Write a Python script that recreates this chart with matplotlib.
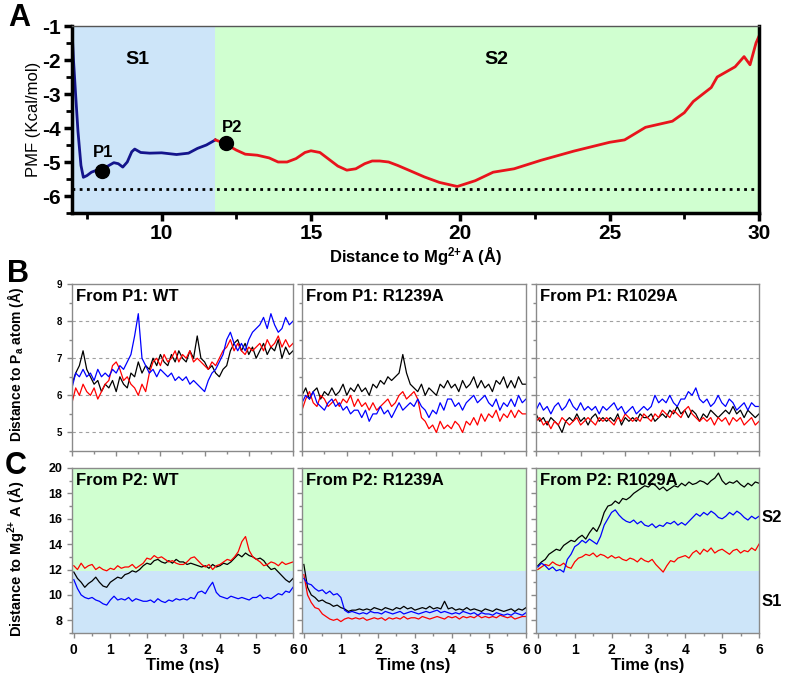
import numpy as np
import matplotlib
matplotlib.use("Agg")
import matplotlib.pyplot as plt
from matplotlib.ticker import MultipleLocator

plt.rcParams['font.family'] = ['Liberation Sans', 'DejaVu Sans']
plt.rcParams['axes.unicode_minus'] = False
plt.rcParams['mathtext.fontset'] = 'custom'
plt.rcParams['mathtext.rm'] = 'Liberation Sans'
plt.rcParams['mathtext.bf'] = 'Liberation Sans:bold'
plt.rcParams['mathtext.it'] = 'Liberation Sans:italic'

# ---------------- DATA ----------------
# Panel A: PMF profile
pmf_s1_x = [7.0, 7.05, 7.12, 7.2, 7.3, 7.38, 7.5, 7.65, 7.8, 8.0, 8.2, 8.4, 8.55,
            8.7, 8.85, 9.0, 9.1, 9.3, 9.6, 10.0, 10.5, 10.9, 11.2, 11.5, 11.8]
pmf_s1_y = [-1.1, -2.0, -3.0, -4.1, -5.1, -5.45, -5.4, -5.3, -5.25, -5.2, -5.12, -5.02, -5.05,
            -5.15, -5.0, -4.7, -4.62, -4.72, -4.74, -4.73, -4.78, -4.74, -4.6, -4.5, -4.35]
pmf_s2_x = [11.8, 12.1, 12.5, 12.8, 13.2, 13.6, 13.9, 14.2, 14.5, 14.8, 15.0, 15.3, 15.6,
            15.9, 16.2, 16.5, 16.8, 17.05, 17.3, 17.6, 17.9, 18.3, 18.8, 19.3, 19.9, 20.5,
            21.1, 21.8, 22.7, 23.8, 25.0, 25.5, 26.2, 27.1, 27.5, 27.8, 28.4, 28.6, 28.9,
            29.2, 29.5, 29.7, 29.9, 30.0]
pmf_s2_y = [-4.35, -4.45, -4.65, -4.77, -4.8, -4.88, -5.0, -5.0, -4.9, -4.72, -4.67, -4.72, -4.92,
            -5.12, -5.24, -5.2, -5.05, -4.97, -4.97, -5.0, -5.1, -5.25, -5.44, -5.6, -5.72, -5.55,
            -5.3, -5.2, -4.95, -4.68, -4.42, -4.35, -3.98, -3.8, -3.55, -3.22, -2.81, -2.5, -2.35,
            -2.2, -1.9, -2.14, -1.5, -1.3]
pmf_min = -5.8
p1 = (8.0, -5.25)
p2 = (12.15, -4.45)
s1_edge = 11.8

# Panel B: distance to Pa atom, sampled every 0.1 ns (0..6 ns)
b_wt_black = [6.3, 6.6, 6.8, 7.2, 6.7, 6.5, 6.3, 6.4, 6.1, 6.3, 6.2, 6.4, 6.1, 6.5, 6.3, 6.2,
              6.6, 6.5, 6.9, 6.6, 6.8, 6.7, 7.0, 6.8, 7.1, 6.9, 6.8, 7.1, 6.9, 7.2, 7.0, 6.9,
              7.2, 7.0, 7.6, 7.0, 6.9, 6.7, 6.8, 6.6, 6.5, 6.7, 6.8, 7.2, 7.4, 7.5, 7.2, 7.4,
              7.1, 7.3, 7.0, 7.2, 7.4, 7.1, 7.3, 7.2, 7.5, 7.0, 7.3, 7.1, 7.2]
b_wt_red = [5.8, 6.2, 6.0, 6.3, 6.1, 6.0, 6.2, 5.9, 6.1, 6.3, 6.4, 6.8, 6.9, 6.7, 6.4, 6.5,
            6.3, 6.2, 6.0, 6.3, 6.1, 6.6, 6.9, 7.0, 6.8, 7.1, 6.9, 7.0, 7.2, 6.9, 7.1, 7.0,
            7.2, 6.9, 7.0, 6.9, 6.8, 6.7, 6.9, 6.8, 7.0, 7.2, 7.3, 7.5, 7.2, 7.4, 7.2, 7.1,
            7.3, 7.2, 7.3, 7.4, 7.2, 7.5, 7.3, 7.4, 7.6, 7.3, 7.5, 7.3, 7.4]
b_wt_blue = [6.2, 6.6, 6.5, 6.7, 6.5, 6.6, 6.4, 6.7, 6.5, 6.6, 6.5, 6.7, 6.6, 6.8, 6.7, 6.9,
             7.1, 7.6, 8.2, 7.0, 6.8, 6.6, 6.7, 6.5, 6.7, 6.6, 6.5, 6.6, 6.4, 6.5, 6.4, 6.5,
             6.3, 6.4, 6.3, 6.2, 6.1, 6.4, 6.6, 6.7, 6.9, 7.1, 7.5, 7.7, 7.4, 7.2, 7.4, 7.2,
             7.5, 7.7, 7.8, 7.9, 8.1, 7.8, 8.2, 7.9, 7.7, 7.8, 8.1, 7.9, 8.0]
b_r1239_black = [6.0, 6.2, 5.9, 6.1, 6.2, 5.9, 6.1, 6.0, 6.2, 6.0, 6.1, 6.3, 6.0, 6.2, 6.1, 6.3,
                 6.1, 6.2, 6.0, 6.3, 6.2, 6.4, 6.3, 6.5, 6.4, 6.5, 6.6, 7.1, 6.6, 6.3, 6.2, 6.1,
                 6.3, 6.0, 6.2, 6.1, 6.0, 6.3, 6.2, 6.4, 6.2, 6.3, 6.1, 6.4, 6.2, 6.3, 6.5, 6.2,
                 6.4, 6.2, 6.3, 6.1, 6.4, 6.3, 6.5, 6.2, 6.4, 6.2, 6.5, 6.3, 6.3]
b_r1239_red = [5.6, 5.9, 6.1, 5.8, 5.7, 6.0, 5.9, 5.7, 5.8, 5.9, 5.7, 5.9, 5.8, 6.0, 5.7, 5.9,
               5.7, 5.8, 5.6, 5.8, 5.6, 5.7, 5.8, 5.9, 5.7, 5.8, 6.0, 6.1, 5.9, 6.0, 6.1, 5.9,
               5.4, 5.3, 5.1, 5.2, 5.0, 5.3, 5.1, 5.2, 5.1, 5.3, 5.2, 5.0, 5.3, 5.2, 5.4, 5.2,
               5.5, 5.3, 5.5, 5.4, 5.6, 5.3, 5.5, 5.4, 5.6, 5.4, 5.6, 5.5, 5.5]
b_r1239_blue = [5.8, 6.0, 5.9, 6.1, 5.8, 5.7, 5.6, 5.8, 5.9, 5.7, 5.8, 5.6, 5.7, 5.5, 5.6, 5.6,
                5.4, 5.6, 5.3, 5.5, 5.5, 5.7, 5.5, 5.6, 5.4, 5.6, 5.8, 5.6, 5.7, 5.8, 5.7, 5.9,
                5.7, 5.6, 5.4, 5.6, 5.5, 5.8, 5.6, 5.9, 5.9, 5.7, 5.8, 5.6, 5.8, 5.9, 6.0, 5.8,
                5.9, 6.0, 5.8, 5.7, 5.9, 5.6, 5.8, 5.7, 5.9, 5.7, 6.0, 5.8, 5.9]
b_r1029_black = [5.5, 5.3, 5.4, 5.2, 5.4, 5.3, 5.2, 5.0, 5.3, 5.4, 5.3, 5.5, 5.3, 5.4, 5.2, 5.4,
                 5.5, 5.3, 5.4, 5.3, 5.4, 5.3, 5.5, 5.2, 5.4, 5.3, 5.4, 5.3, 5.5, 5.4, 5.4, 5.5,
                 5.3, 5.4, 5.5, 5.4, 5.6, 5.5, 5.7, 5.5, 5.6, 5.4, 5.6, 5.5, 5.3, 5.5, 5.4, 5.6,
                 5.5, 5.4, 5.5, 5.6, 5.5, 5.7, 5.5, 5.6, 5.4, 5.6, 5.5, 5.4, 5.5]
b_r1029_red = [5.3, 5.4, 5.2, 5.3, 5.1, 5.3, 5.2, 5.4, 5.3, 5.2, 5.3, 5.4, 5.2, 5.3, 5.4, 5.3,
               5.2, 5.4, 5.3, 5.4, 5.3, 5.2, 5.4, 5.3, 5.5, 5.4, 5.3, 5.4, 5.3, 5.5, 5.4, 5.3,
               5.5, 5.4, 5.6, 5.5, 5.4, 5.6, 5.5, 5.4, 5.6, 5.7, 5.5, 5.4, 5.3, 5.4, 5.3, 5.4,
               5.2, 5.4, 5.3, 5.4, 5.2, 5.4, 5.3, 5.4, 5.2, 5.3, 5.4, 5.2, 5.3]
b_r1029_blue = [5.6, 5.8, 5.6, 5.7, 5.5, 5.7, 5.8, 5.6, 5.7, 5.9, 5.7, 5.6, 5.8, 5.6, 5.7, 5.6,
                5.7, 5.5, 5.7, 5.6, 5.7, 5.8, 5.6, 5.7, 5.5, 5.6, 5.7, 5.5, 5.6, 5.7, 5.6, 5.7,
                6.0, 5.8, 5.9, 5.8, 6.0, 5.8, 5.7, 5.9, 5.9, 6.1, 6.0, 6.2, 5.9, 5.8, 5.9, 5.7,
                5.8, 6.0, 5.8, 5.7, 5.9, 5.8, 5.6, 5.7, 5.8, 5.6, 5.8, 5.7, 5.7]

# Panel C: distance to Mg2+ A, sampled every 0.1 ns (0..6 ns)
c_wt_black = [11.8, 11.3, 11.0, 10.6, 10.9, 11.1, 11.4, 11.0, 10.7, 10.6, 11.0, 11.2, 11.4, 11.3,
              11.6, 11.7, 11.9, 11.8, 12.0, 12.3, 12.5, 12.4, 12.7, 12.8, 12.6, 12.5, 12.7, 12.5,
              12.8, 12.6, 12.6, 12.4, 12.5, 12.4, 12.3, 12.2, 12.3, 12.1, 12.4, 12.2, 12.3, 12.5,
              12.4, 12.6, 12.9, 13.2, 13.0, 13.3, 13.1, 13.0, 12.8, 12.9, 12.7, 12.3, 12.0, 12.1,
              11.8, 11.5, 11.2, 11.0, 11.3]
c_wt_red = [12.3, 12.0, 12.5, 12.1, 12.3, 12.4, 12.0, 12.2, 12.0, 11.9, 12.1, 12.0, 12.3, 12.1,
            12.2, 12.2, 12.4, 12.1, 12.3, 12.5, 12.9, 12.8, 13.1, 12.9, 13.0, 12.8, 12.6, 12.7,
            12.5, 12.4, 12.4, 12.6, 12.9, 13.0, 12.7, 12.4, 12.2, 12.4, 12.0, 12.3, 12.4, 12.6,
            12.8, 12.7, 13.0, 13.4, 14.2, 14.6, 13.5, 13.0, 12.8, 12.6, 12.3, 12.4, 12.6, 12.5,
            12.3, 12.6, 12.4, 12.5, 12.6]
c_wt_blue = [11.2, 10.5, 10.0, 9.8, 9.7, 9.8, 9.6, 9.5, 9.3, 9.2, 9.6, 9.9, 9.6, 9.7, 9.6, 9.8,
             9.5, 9.7, 9.6, 9.5, 9.5, 9.6, 9.4, 9.7, 9.5, 9.4, 9.6, 9.5, 9.7, 9.6, 9.7, 9.6,
             9.8, 9.7, 10.2, 10.3, 10.1, 10.6, 11.0, 10.2, 9.9, 9.8, 9.7, 9.9, 9.8, 9.7, 9.8,
             9.7, 9.6, 9.8, 9.8, 10.0, 9.7, 9.8, 9.7, 9.9, 10.1, 10.0, 10.3, 10.2, 10.6]
c_r1239_black = [12.4, 10.6, 10.0, 9.8, 9.5, 9.6, 9.4, 9.3, 9.1, 9.2, 9.0, 8.9, 8.7, 8.8, 8.8,
                 8.9, 8.8, 8.9, 8.8, 9.0, 8.9, 8.8, 9.0, 8.9, 8.8, 9.0, 8.9, 9.1, 8.9, 9.0, 8.8,
                 8.9, 9.0, 8.9, 9.1, 8.9, 9.0, 8.9, 9.5, 8.9, 9.0, 8.8, 8.9, 8.8, 9.0, 8.8, 8.9,
                 8.8, 8.7, 8.9, 8.8, 8.7, 8.9, 8.8, 8.7, 8.8, 8.9, 8.7, 8.9, 8.8, 9.0]
c_r1239_red = [11.6, 10.0, 9.4, 9.0, 8.9, 8.5, 8.3, 8.1, 8.0, 8.1, 7.9, 8.1, 8.2, 8.1, 8.2, 8.1,
               8.2, 8.0, 8.1, 8.2, 8.1, 8.2, 8.0, 8.2, 8.1, 8.2, 8.1, 8.3, 8.1, 8.2, 8.2, 8.1,
               8.3, 8.2, 8.1, 8.2, 8.3, 8.2, 8.1, 8.3, 8.2, 8.3, 8.1, 8.3, 8.2, 8.3, 8.2, 8.4,
               8.2, 8.3, 8.2, 8.3, 8.2, 8.4, 8.3, 8.2, 8.3, 8.1, 8.2, 8.3, 8.3]
c_r1239_blue = [11.3, 10.9, 10.8, 10.5, 10.3, 10.4, 10.1, 10.3, 10.0, 10.1, 9.8, 8.8, 8.6, 8.7,
                8.6, 8.5, 8.6, 8.5, 8.7, 8.6, 8.6, 8.5, 8.7, 8.6, 8.5, 8.6, 8.7, 8.5, 8.6, 8.7,
                8.6, 8.5, 8.6, 8.7, 8.6, 8.7, 8.8, 8.6, 8.7, 8.6, 8.5, 8.6, 8.5, 8.7, 8.6, 8.5,
                8.6, 8.4, 8.6, 8.5, 8.5, 8.4, 8.6, 8.5, 8.4, 8.5, 8.4, 8.6, 8.5, 8.4, 8.6]
c_r1029_black = [12.3, 12.6, 12.8, 13.2, 13.4, 13.6, 13.5, 13.9, 14.1, 14.3, 14.2, 14.5, 14.7, 14.4,
                 14.9, 15.3, 15.0, 15.6, 16.5, 17.0, 17.1, 17.4, 17.2, 17.6, 17.5, 17.7, 18.0, 18.2,
                 18.4, 18.6, 18.5, 18.8, 18.6, 18.3, 18.5, 18.2, 18.4, 18.6, 18.5, 18.8, 18.6, 18.9,
                 18.7, 18.8, 19.0, 18.9, 18.7, 19.0, 19.2, 19.6, 19.0, 18.7, 18.9, 18.8, 19.0, 18.7,
                 18.5, 18.8, 18.6, 18.9, 18.8]
c_r1029_red = [12.0, 12.2, 12.4, 12.3, 12.6, 12.4, 12.3, 12.5, 12.2, 12.1, 12.6, 12.9, 13.0, 13.2,
               13.1, 13.3, 13.0, 13.2, 13.1, 12.9, 13.1, 12.9, 13.0, 12.8, 12.7, 12.9, 12.8, 12.6,
               12.9, 12.7, 12.6, 12.8, 12.4, 12.1, 11.8, 12.3, 12.7, 12.6, 12.9, 13.0, 13.1, 12.9,
               13.3, 13.5, 13.2, 13.6, 13.4, 13.7, 13.3, 13.5, 13.6, 13.4, 13.2, 13.5, 13.6, 13.3,
               13.5, 13.4, 13.7, 13.5, 14.0]
c_r1029_blue = [12.2, 12.5, 12.3, 12.0, 12.2, 11.9, 12.0, 11.8, 12.8, 13.2, 13.8, 14.0, 14.3, 14.1,
                14.4, 14.2, 14.0, 14.6, 15.5, 16.0, 16.5, 16.7, 16.3, 16.0, 15.8, 15.7, 15.9, 15.6,
                15.8, 15.5, 15.4, 15.6, 15.3, 15.5, 15.4, 15.7, 15.6, 15.8, 15.5, 15.7, 15.5, 15.8,
                16.1, 16.4, 16.2, 16.5, 16.3, 16.6, 16.4, 16.1, 16.0, 16.2, 16.5, 16.3, 16.6, 16.4,
                16.1, 15.9, 16.2, 16.0, 16.2]

b_titles = ["From P1: WT", "From P1: R1239A", "From P1: R1029A"]
c_titles = ["From P2: WT", "From P2: R1239A", "From P2: R1029A"]
b_traces = [(b_wt_black, b_wt_red, b_wt_blue),
            (b_r1239_black, b_r1239_red, b_r1239_blue),
            (b_r1029_black, b_r1029_red, b_r1029_blue)]
c_traces = [(c_wt_black, c_wt_red, c_wt_blue),
            (c_r1239_black, c_r1239_red, c_r1239_blue),
            (c_r1029_black, c_r1029_red, c_r1029_blue)]
trace_colors = ['#000000', '#ff0000', '#0000ff']

S1_COLOR = '#cde5f9'
S2_COLOR = '#d0ffd0'
FRAME = '#8a8a8a'

# ---------------- FIGURE ----------------
W, H = 788, 677
fig = plt.figure(figsize=(W / 100, H / 100), dpi=100)


def box(l, t, r, b):
    return [l / W, 1 - b / H, (r - l) / W, (b - t) / H]


# ---- Panel A ----
ax = fig.add_axes(box(72, 26, 759, 213))
ax.axvspan(7, s1_edge, color=S1_COLOR, lw=0)
ax.axvspan(s1_edge, 30, color=S2_COLOR, lw=0)
ax.axhline(pmf_min, color='black', ls=(0, (1, 1.6)), lw=2)
ax.plot(pmf_s1_x, pmf_s1_y, color='#14148c', lw=2)
ax.plot(pmf_s2_x, pmf_s2_y, color='#e8141c', lw=2)
ax.plot(*p1, 'o', color='black', ms=10, zorder=5)
ax.plot(*p2, 'o', color='black', ms=10, zorder=5)
ax.text(p1[0] + 0.05, -4.72, 'P1', fontsize=12, fontweight='bold', ha='center', va='center')
ax.text(p2[0] + 0.2, -3.98, 'P2', fontsize=12, fontweight='bold', ha='center', va='center')
ax.text(9.2, -2.0, 'S1', fontsize=14, fontweight='bold', ha='center', va='center')
ax.text(21.2, -2.0, 'S2', fontsize=14, fontweight='bold', ha='center', va='center')
ax.set_xlim(7, 30)
ax.set_ylim(-6.5, -1)
ax.xaxis.set_major_locator(MultipleLocator(5))
ax.xaxis.set_minor_locator(MultipleLocator(2.5))
ax.yaxis.set_major_locator(MultipleLocator(1))
ax.yaxis.set_minor_locator(MultipleLocator(0.5))
for s in ['left', 'bottom', 'right']:
    ax.spines[s].set_linewidth(2.5)
    ax.spines[s].set_color('black')
ax.spines['top'].set_color('#555555')
ax.spines['top'].set_linewidth(1)
ax.tick_params(which='major', direction='out', length=6, width=2.5, labelsize=15, pad=2)
ax.tick_params(which='minor', direction='out', length=4, width=2)
ax.tick_params(axis='x', top=False, which='both')
for lbl in ax.get_xticklabels() + ax.get_yticklabels():
    lbl.set_fontweight('bold')
ax.set_xlabel('Distance to Mg$^{\\mathbf{2{+}}}$A (Å)', fontsize=12, fontweight='bold', labelpad=2)
ax.set_ylabel('PMF (Kcal/mol)', fontsize=12, labelpad=1)
fig.text(19 / W, 1 - 18 / H, 'A', fontsize=22, fontweight='bold', ha='center', va='center')


def style_small(ax, labels):
    for s in ax.spines.values():
        s.set_color(FRAME)
        s.set_linewidth(1)
    ax.tick_params(which='both', direction='out', color=FRAME, width=1)
    ax.tick_params(which='major', length=3.5, labelsize=9)
    ax.tick_params(which='minor', length=2)
    if not labels:
        ax.tick_params(axis='y', labelleft=False)
    for lbl in ax.get_xticklabels() + ax.get_yticklabels():
        lbl.set_fontweight('bold')


# ---- Panel B ----
b_lr = [(72, 293), (302, 526), (536, 759)]
for i, (l, r) in enumerate(b_lr):
    ax = fig.add_axes(box(l, 284, r, 451))
    for v in [5, 6, 7, 8]:
        ax.axhline(v, color='#a0a0a0', ls=(0, (3, 3)), lw=0.8, zorder=0)
    for vals, col in zip(b_traces[i], trace_colors):
        t = np.linspace(0, 6, len(vals))
        ax.plot(t, vals, color=col, lw=0.9)
    ax.set_xlim(0, 6)
    ax.set_ylim(4.5, 9)
    ax.set_xticks(np.linspace(0, 6, 6))
    ax.xaxis.set_minor_locator(MultipleLocator(0.6))
    ax.yaxis.set_major_locator(MultipleLocator(1))
    ax.yaxis.set_minor_locator(MultipleLocator(0.5))
    ax.tick_params(axis='x', labelbottom=False)
    style_small(ax, i == 0)
    ax.tick_params(axis='y', labelsize=7)
    for lbl in ax.get_yticklabels():
        lbl.set_fontweight('bold')
    ax.text(0.02, 0.97, b_titles[i], transform=ax.transAxes, fontsize=12,
            fontweight='bold', ha='left', va='top')
    if i == 0:
        ax.set_ylabel('Distance to P$_\\mathbf{a}$ atom (Å)', fontsize=10,
                      fontweight='bold')
        ax.yaxis.set_label_coords(-0.21, 0.52)
fig.text(18 / W, 1 - 274 / H, 'B', fontsize=22, fontweight='bold', ha='center', va='center')

# ---- Panel C ----
for i, (l, r) in enumerate(b_lr):
    ax = fig.add_axes(box(l, 468, r, 633))
    ax.axhspan(7, 11.85, color=S1_COLOR, lw=0, zorder=0)
    ax.axhspan(11.85, 20, color=S2_COLOR, lw=0, zorder=0)
    for vals, col in zip(c_traces[i], trace_colors):
        t = np.linspace(0, 6, len(vals))
        ax.plot(t, vals, color=col, lw=0.9)
    ax.set_xlim(-0.05, 6)
    ax.set_ylim(7, 20)
    ax.xaxis.set_major_locator(MultipleLocator(1))
    ax.xaxis.set_minor_locator(MultipleLocator(0.5))
    ax.yaxis.set_major_locator(MultipleLocator(2))
    ax.yaxis.set_minor_locator(MultipleLocator(1))
    style_small(ax, i == 0)
    ax.tick_params(axis='x', labelsize=10)
    for lbl in ax.get_xticklabels():
        lbl.set_fontweight('bold')
    ax.text(0.02, 0.97, c_titles[i], transform=ax.transAxes, fontsize=12,
            fontweight='bold', ha='left', va='top')
    ax.set_xlabel('Time (ns)', fontsize=12, fontweight='bold', labelpad=1)
    if i == 0:
        ax.set_ylabel('Distance to Mg$^{\\mathbf{2{+}}}$ A (Å)', fontsize=10.5,
                      fontweight='bold')
        ax.yaxis.set_label_coords(-0.21, 0.45)
fig.text(16 / W, 1 - 466 / H, 'C', fontsize=22, fontweight='bold', ha='center', va='center')
fig.text(772 / W, 1 - 517 / H, 'S2', fontsize=12, fontweight='bold', ha='center', va='center')
fig.text(772 / W, 1 - 602 / H, 'S1', fontsize=12, fontweight='bold', ha='center', va='center')

fig.savefig('out.png', dpi=100)
